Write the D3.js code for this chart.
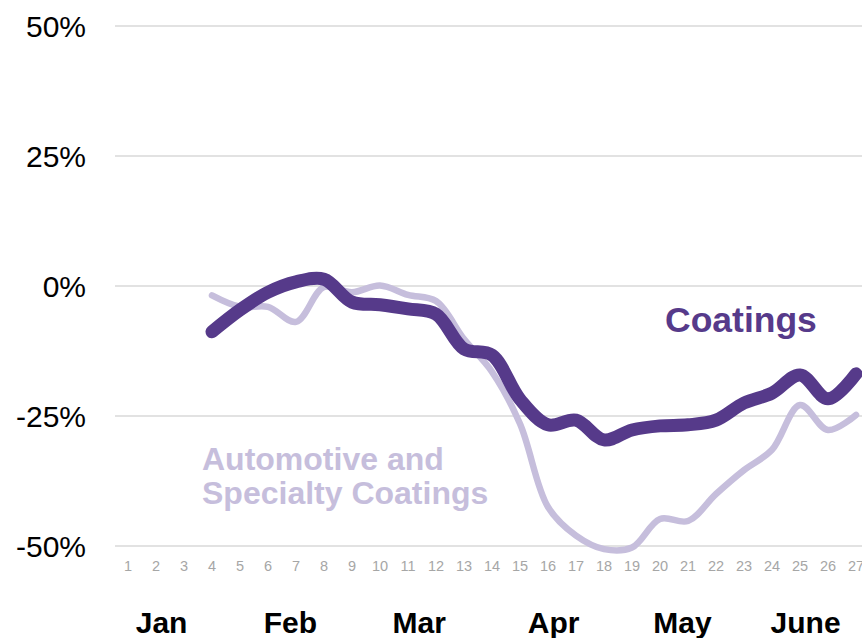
<!DOCTYPE html>
<html>
<head>
<meta charset="utf-8">
<script src="https://cdn.jsdelivr.net/npm/d3@7"></script>
<style>
  body { margin: 0; background: #fff; }
  svg { display: block; }
  text { font-family: "Liberation Sans", Arial, sans-serif; }
</style>
</head>
<body>
<div id="container"></div>
<script>
// week numbers along the bottom
var weeks = d3.range(1, 28);
var lineWeeks = d3.range(4, 28);

// % change, weeks 4..27
var coatings = [-8.8, -4.6, -1.2, 0.8, 1.3, -3.1, -3.6, -4.4, -5.4, -12.1, -13.3, -21.8,
	-26.7, -25.8, -29.6, -27.7, -26.9, -26.7, -25.8, -22.5, -20.6, -17.1, -21.7, -16.9];
var automotive = [-1.8, -4.0, -4.0, -6.9, -0.2, -1.2, 0.1, -1.7, -2.9, -10.2, -16.5, -26.5,
	-42.5, -48.0, -50.6, -50.3, -44.8, -45.2, -40.0, -35.4, -31.5, -22.9, -27.7, -24.8];

var yTicks = [50, 25, 0, -25, -50];
var months = ["Jan", "Feb", "Mar", "Apr", "May", "June"];
var monthPos = [2.2, 6.8, 11.4, 16.2, 20.8, 25.2];

var width = 862, height = 638;
var dark = "#563a8a", light = "#c6bedc";

var svg = d3.select("#container").append("svg")
	.attr("width", width)
	.attr("height", height);

var x = d3.scaleLinear().domain([1, 27]).range([128, 856]);
var y = d3.scaleLinear().domain([-50, 50]).range([546, 26]);

// horizontal grid
svg.append("g")
	.selectAll("line")
	.data(yTicks).enter()
	.append("line")
	.attr("x1", 115)
	.attr("x2", width)
	.attr("y1", function(d) { return y(d); })
	.attr("y2", function(d) { return y(d); })
	.attr("stroke", "#d9d9d9")
	.attr("stroke-width", 1.5);

// y labels
svg.append("g")
	.selectAll("text")
	.data(yTicks).enter()
	.append("text")
	.attr("x", 86)
	.attr("y", function(d) { return y(d); })
	.attr("dy", "0.36em")
	.attr("text-anchor", "end")
	.style("font-size", "30px")
	.style("fill", "#000")
	.text(function(d) { return d + "%"; });

// week numbers
svg.append("g")
	.selectAll("text")
	.data(weeks).enter()
	.append("text")
	.attr("x", function(d) { return x(d); })
	.attr("y", 571)
	.attr("text-anchor", "middle")
	.style("font-size", "14.5px")
	.style("fill", "#a6a6a6")
	.text(function(d) { return d; });

// months
svg.append("g")
	.selectAll("text")
	.data(months).enter()
	.append("text")
	.attr("x", function(d, i) { return x(monthPos[i]); })
	.attr("y", 633)
	.attr("text-anchor", "middle")
	.style("font-size", "30px")
	.style("font-weight", "bold")
	.style("fill", "#000")
	.text(function(d) { return d; });

var lineFunc = d3.line()
	.x(function(d, i) { return x(lineWeeks[i]); })
	.y(function(d) { return y(d); })
	.curve(d3.curveCatmullRom.alpha(0.5));

svg.append("path")
	.attr("d", lineFunc(automotive))
	.attr("fill", "none")
	.attr("stroke", light)
	.attr("stroke-width", 6.5)
	.attr("stroke-linecap", "round")
	.attr("stroke-linejoin", "round");

svg.append("path")
	.attr("d", lineFunc(coatings))
	.attr("fill", "none")
	.attr("stroke", dark)
	.attr("stroke-width", 13)
	.attr("stroke-linecap", "round")
	.attr("stroke-linejoin", "round");

// series labels
svg.append("text")
	.attr("x", 665)
	.attr("y", 332)
	.style("font-size", "35.5px")
	.style("font-weight", "bold")
	.style("fill", dark)
	.text("Coatings");

var lab = svg.append("text")
	.attr("x", 202)
	.attr("y", 470)
	.style("font-size", "32px")
	.style("font-weight", "bold")
	.style("fill", light);
lab.append("tspan").attr("x", 202).attr("y", 470).text("Automotive and");
lab.append("tspan").attr("x", 202).attr("y", 504).text("Specialty Coatings");
</script>
</body>
</html>
